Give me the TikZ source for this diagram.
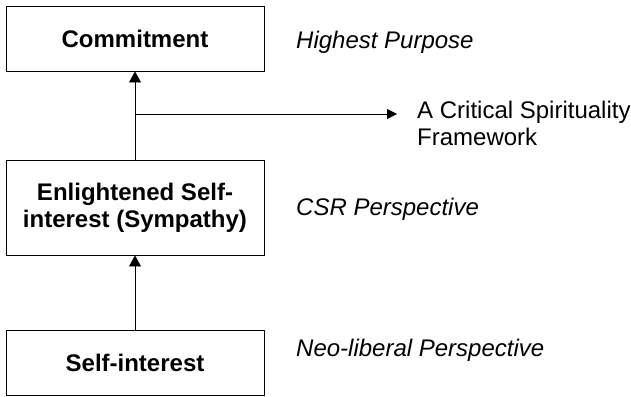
\documentclass[tikz,border=0pt]{standalone}
\usepackage{fontspec}
\setmainfont{Liberation Sans}
\usetikzlibrary{arrows.meta}
\begin{document}
\begin{tikzpicture}[x=1pt,y=-1pt,
  every node/.style={font=\fontsize{24}{27}\selectfont},
  levelbox/.style={draw=black,line width=0.9pt,minimum width=258pt,inner sep=0pt,align=center,font=\fontsize{24}{27}\selectfont\bfseries},
  sidelabel/.style={anchor=west,inner sep=0pt,font=\fontsize{24}{27}\selectfont\itshape},
  link/.style={line width=0.9pt,-{Triangle[length=11pt,width=12pt]}}]
\useasboundingbox (0,0) rectangle (631,396);
\node[levelbox,minimum height=65pt] (b1) at (135,38.5) {Commitment};
\node[levelbox,minimum height=95pt] (b2) at (135,207.5) {Enlightened Self-\\interest (Sympathy)};
\node[levelbox,minimum height=65pt] (b3) at (135,362.5) {Self-interest};
\node[sidelabel] (l1) at (296,42) {Highest Purpose};
\node[sidelabel] (l2) at (296,209) {CSR Perspective};
\node[sidelabel] (l3) at (296,350) {Neo-liberal Perspective};
\node[anchor=west,inner sep=0pt,align=left] (fw) at (417,123.5) {A Critical Spirituality\\Framework};
\coordinate (j) at (135,114);
\coordinate (e) at (397,114);
\draw[link] (b3.north) -- (b2.south);
\draw[link] (b2.north) -- (b1.south);
\draw[line width=0.9pt,-{Triangle[length=10pt,width=10pt]}] (j) -- (e);
\end{tikzpicture}
\end{document}
